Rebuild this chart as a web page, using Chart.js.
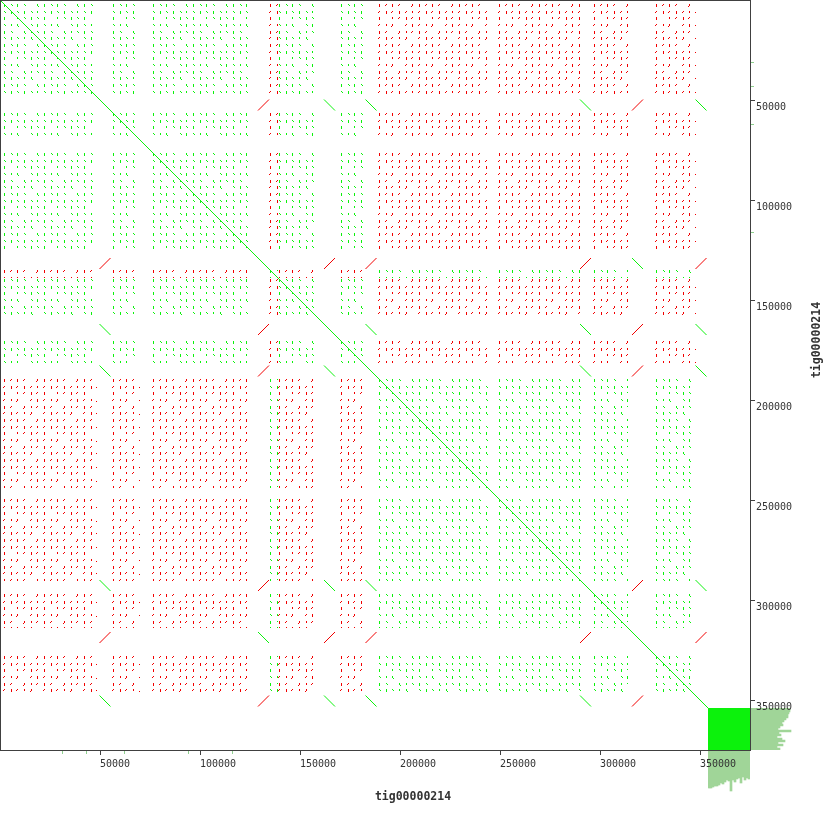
<!DOCTYPE html>
<html>
<head>
<meta charset="utf-8">
<script src="https://cdn.jsdelivr.net/npm/chart.js@4.4.1/dist/chart.umd.min.js"></script>
<style>
    html, body { margin: 0; padding: 0; background: #fff; }
    #wrap { position: relative; width: 830px; height: 830px; }
    canvas { position: absolute; }
    #dotplot { left: 0; top: 0; z-index: 2; }
    #covRight { left: 750px; top: 708px; z-index: 1; }
    #covBottom { left: 708px; top: 750px; z-index: 1; }
</style>
</head>
<body>
<div id="wrap">
    <canvas id="covRight" width="50" height="42"></canvas>
    <canvas id="covBottom" width="42" height="50"></canvas>
    <canvas id="dotplot" width="830" height="830"></canvas>
</div>
<script>
const contigName = 'tig00000214';
const seqLength = 375000;
const axisTicks = [50000, 100000, 150000, 200000, 250000, 300000, 350000];

// tandem repeat blocks along the contig (same on both axes)
const blockStart  = [1500, 56000, 76000, 134500, 139000, 170000, 189000, 249000, 296500, 327500];
const blockEnd    = [48500, 70000, 125500, 139000, 159000, 181500, 244000, 290500, 314000, 348000];
const blockStrand = ['+', '+', '+', '-', '+', '+', '-', '-', '-', '-'];

// short alignments at the junctions between blocks
const junctionPos    = [52500, 131750, 164750, 185500, 292750, 318750, 350500];
const junctionStrand = ['+', '-', '+', '+', '+', '-', '+'];
const junctionHalf = 2750;

// self hit along the diagonal, then the unaligned tail
const diagonalEnd = 354000;
const tailStart = 354000;

// coverage of the tail (marginal bars)
const covBins   = [354000, 355000, 356000, 357000, 358000, 359000, 360000, 361000, 362000, 363000, 364000,
                   365000, 366000, 367000, 368000, 369000, 370000, 371000, 372000, 373000, 374000];
const covRight  = [40, 40, 39, 38, 38, 36, 34, 32, 33, 30, 28, 41, 29, 31, 27, 32, 35, 28, 33, 27, 30];
const covBottom = [38, 38, 37, 36, 36, 35, 33, 34, 32, 30, 31, 41, 30, 32, 29, 28, 33, 27, 30, 28, 29];

// small marks on the axes
const xMarks = [31000, 43000, 62000, 94000, 116000];
const yMarks = [31000, 43000, 62000, 116000];

const GREEN = '#0cf20c';
const RED = '#f20000';
const COV = '#a0d598';
const INK = '#404040';

// dash texture for a repeat block: 6x6 cells, digit = dash length, 0 = gap
const dashMask = [
    '323203',
    '232322',
    '302232',
    '223023',
    '320322',
    '232230'
];
const dashOffs = [1, 8, 14, 21, 28, 34];

function makeTile(color, slant) {
    const c = document.createElement('canvas');
    c.width = 40; c.height = 40;
    const g = c.getContext('2d');
    g.fillStyle = color;
    dashMask.forEach((row, r) => {
        row.split('').forEach((ch, k) => {
            const len = Number(ch);
            if (!len) return;
            const ox = dashOffs[k], oy = dashOffs[r];
            g.fillRect(ox, oy, 1, len - 1);
            g.fillRect(ox + ((r + k) % 2 ? slant : 0), oy + len - 1, 1, 1);
        });
    });
    return c;
}
const tiles = { same: makeTile(GREEN, 1), flip: makeTile(RED, -1) };

function blockFill(tile) {
    return (c) => {
        const chart = c.chart;
        if (!chart.chartArea || !chart.scales.x) return 'rgba(0,0,0,0)';
        const p = chart.ctx.createPattern(tile, 'repeat');
        const p0 = c.dataset.data[0];
        const px = Math.round(chart.scales.x.getPixelForValue(p0.x));
        const py = Math.round(chart.scales.y.getPixelForValue(p0.y));
        p.setTransform(new DOMMatrix([1, 0, 0, 1, px, py]));
        return p;
    };
}

const datasets = [];

// main diagonal
datasets.push({
    data: [{ x: 0, y: 0 }, { x: diagonalEnd, y: diagonalEnd }],
    borderColor: GREEN, borderWidth: 1, pointRadius: 0, fill: false, order: 1
});

// junction hits
junctionPos.forEach((gx, i) => {
    junctionPos.forEach((gy, j) => {
        if (i === j) return;
        const same = junctionStrand[i] === junctionStrand[j];
        const pts = same
            ? [{ x: gx - junctionHalf, y: gy - junctionHalf }, { x: gx + junctionHalf, y: gy + junctionHalf }]
            : [{ x: gx - junctionHalf, y: gy + junctionHalf }, { x: gx + junctionHalf, y: gy - junctionHalf }];
        datasets.push({
            data: pts, borderColor: same ? GREEN : RED, borderWidth: 1,
            pointRadius: 0, fill: false, order: 1
        });
    });
});

// unaligned tail square
datasets.push({
    data: [{ x: tailStart, y: tailStart }, { x: seqLength, y: tailStart }, { x: seqLength, y: seqLength },
           { x: tailStart, y: seqLength }, { x: tailStart, y: tailStart }],
    borderWidth: 0, borderColor: 'rgba(0,0,0,0)', backgroundColor: GREEN,
    pointRadius: 0, fill: 'shape', order: 2
});

// repeat blocks
blockStart.forEach((x0, i) => {
    blockStart.forEach((y0, j) => {
        const x1 = blockEnd[i], y1 = blockEnd[j];
        const same = blockStrand[i] === blockStrand[j];
        datasets.push({
            data: [{ x: x0, y: y0 }, { x: x1, y: y0 }, { x: x1, y: y1 }, { x: x0, y: y1 }, { x: x0, y: y0 }],
            borderWidth: 0, borderColor: 'rgba(0,0,0,0)',
            backgroundColor: blockFill(same ? tiles.same : tiles.flip),
            pointRadius: 0, fill: 'shape', order: 3
        });
    });
});

const framePlugin = {
    id: 'frame',
    afterDraw(chart) {
        const { ctx, chartArea: a, scales: { x, y } } = chart;
        ctx.save();
        ctx.strokeStyle = INK;
        ctx.lineWidth = 1;
        ctx.strokeRect(a.left + 0.5, a.top + 0.5, a.right - a.left, a.bottom - a.top);

        ctx.strokeStyle = '#8fd18f';
        xMarks.forEach(v => {
            const px = Math.round(x.getPixelForValue(v)) + 0.5;
            ctx.beginPath(); ctx.moveTo(px, a.bottom + 1); ctx.lineTo(px, a.bottom + 4); ctx.stroke();
        });
        yMarks.forEach(v => {
            const py = Math.round(y.getPixelForValue(v)) + 0.5;
            ctx.beginPath(); ctx.moveTo(a.right + 1, py); ctx.lineTo(a.right + 4, py); ctx.stroke();
        });

        ctx.fillStyle = '#333';
        ctx.font = 'bold 11.5px "DejaVu Sans Mono"';
        ctx.textAlign = 'center';
        ctx.textBaseline = 'middle';
        ctx.fillText(contigName, a.left + 413, a.bottom + 47);
        ctx.translate(a.right + 67, a.top + 340);
        ctx.rotate(-Math.PI / 2);
        ctx.fillText(contigName, 0, 0);
        ctx.restore();
    }
};

function noPadding(s) {
    s.paddingLeft = 0; s.paddingRight = 0; s.paddingTop = 0; s.paddingBottom = 0;
}

const tickFont = { family: 'DejaVu Sans Mono', size: 10 };

new Chart(document.getElementById('dotplot'), {
    type: 'line',
    data: { datasets: datasets },
    options: {
        responsive: false,
        animation: false,
        events: [],
        layout: { padding: 0 },
        plugins: {
            legend: { display: false },
            tooltip: { enabled: false }
        },
        scales: {
            x: {
                type: 'linear',
                min: 0,
                max: seqLength,
                grid: { drawOnChartArea: false, tickLength: 5, color: INK },
                border: { color: INK },
                ticks: {
                    align: 'start', padding: 3, color: '#333', font: tickFont,
                    maxRotation: 0, autoSkip: false, callback: v => String(v)
                },
                afterBuildTicks: s => { s.ticks = axisTicks.map(v => ({ value: v })); },
                afterFit: s => { s.height = 80; noPadding(s); }
            },
            y: {
                type: 'linear',
                position: 'right',
                reverse: true,
                min: 0,
                max: seqLength,
                grid: { drawOnChartArea: false, tickLength: 5, color: INK },
                border: { color: INK },
                ticks: {
                    padding: 1, labelOffset: 7, color: '#333', font: tickFont,
                    autoSkip: false, callback: v => String(v)
                },
                afterBuildTicks: s => { s.ticks = axisTicks.map(v => ({ value: v })); },
                afterFit: s => { s.width = 80; noPadding(s); }
            }
        }
    },
    plugins: [framePlugin]
});

// coverage bars next to the tail
const covOptions = (horizontal) => ({
    indexAxis: horizontal ? 'y' : 'x',
    responsive: false,
    animation: false,
    events: [],
    layout: { padding: 0 },
    plugins: { legend: { display: false }, tooltip: { enabled: false } },
    scales: horizontal
        ? { x: { display: false, min: 0, max: 50 }, y: { display: false } }
        : { x: { display: false }, y: { display: false, min: 0, max: 50, reverse: true } }
});

new Chart(document.getElementById('covRight'), {
    type: 'bar',
    data: {
        labels: covBins,
        datasets: [{ data: covRight, backgroundColor: COV, borderWidth: 0, barPercentage: 1, categoryPercentage: 1 }]
    },
    options: covOptions(true)
});

new Chart(document.getElementById('covBottom'), {
    type: 'bar',
    data: {
        labels: covBins,
        datasets: [{ data: covBottom, backgroundColor: COV, borderWidth: 0, barPercentage: 1, categoryPercentage: 1 }]
    },
    options: covOptions(false)
});
</script>
</body>
</html>
